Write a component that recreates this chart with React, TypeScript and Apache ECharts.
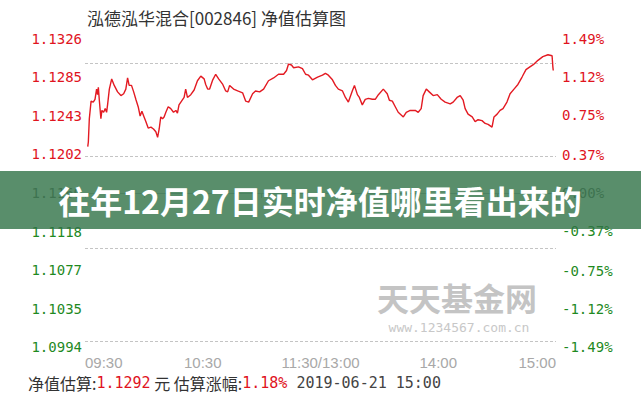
import React, { useEffect, useRef } from "react";
import * as echarts from "echarts";

const TITLE = "泓德泓华混合[002846] 净值估算图";
const BANNER = "往年12月27日实时净值哪里看出来的";
const WATERMARK = "天天基金网";
const WATERMARK_URL = "www.1234567.com.cn";

// minutes since 09:30 (trading minutes, lunch break removed)
const MINUTES = [
  1.4, 1.7, 2.2, 3.1, 4.2, 5.1, 5.9, 6.4, 6.8, 7.3, 8.1, 8.6, 9.5, 10.3, 11.0, 11.5, 12.4, 13.6, 14.9, 16.6,
  18.3, 19.7, 20.8, 21.7, 22.5, 23.7, 24.8, 25.9, 27.1, 28.1, 29.0, 30.1, 31.0, 32.2, 33.6, 34.9, 36.1, 37.0, 37.8, 38.6,
  39.5, 40.3, 41.2, 42.4, 43.7, 45.1, 46.3, 47.1, 47.9, 49.2, 50.5, 51.3, 52.2, 53.9, 55.6, 57.3, 59.0, 60.7, 61.5, 62.5,
  63.5, 65.1, 66.6, 68.1, 70.2, 71.7, 72.7, 73.7, 75.7, 77.8, 80.3, 81.9, 83.4, 85.4, 86.9, 89.0, 91.0, 93.5, 96.1, 98.6,
  101.2, 102.7, 103.7, 105.2, 106.3, 108.8, 110.8, 112.4, 113.9, 115.9, 118.5, 121.0, 122.5, 124.0, 126.1, 127.6, 129.1, 131.2, 132.7, 134.2,
  136.2, 137.3, 138.8, 139.8, 141.3, 142.8, 144.4, 146.4, 147.9, 149.5, 152.0, 154.0, 155.1, 156.6, 158.1, 159.6, 162.2, 163.7, 165.7, 168.3,
  169.8, 171.3, 172.3, 173.9, 175.4, 177.4, 179.5, 181.5, 183.5, 186.1, 187.6, 189.6, 191.2, 192.7, 193.7, 195.2, 197.3, 198.8, 200.3, 202.3,
  203.9, 205.4, 207.4, 208.4, 210.0, 211.5, 213.0, 215.0, 216.6, 218.6, 220.6, 222.7, 224.7, 226.7, 228.8, 230.8, 233.3, 235.9, 238.0, 238.4,
  238.6,
];

const NAV = [
  1.1210, 1.1215, 1.1240, 1.1259, 1.1258, 1.1261, 1.1272, 1.1266, 1.1274, 1.1260, 1.1240, 1.1249, 1.1247, 1.1251, 1.1247, 1.1255, 1.1272, 1.1283, 1.1276, 1.1269,
  1.1265, 1.1267, 1.1272, 1.1284, 1.1276, 1.1276, 1.1269, 1.1261, 1.1253, 1.1243, 1.1248, 1.1242, 1.1237, 1.1230, 1.1231, 1.1229, 1.1226, 1.1220, 1.1229, 1.1242,
  1.1240, 1.1242, 1.1247, 1.1253, 1.1251, 1.1247, 1.1249, 1.1246, 1.1255, 1.1259, 1.1263, 1.1272, 1.1263, 1.1266, 1.1271, 1.1281, 1.1286, 1.1283, 1.1277, 1.1272,
  1.1272, 1.1282, 1.1288, 1.1283, 1.1277, 1.1270, 1.1269, 1.1276, 1.1272, 1.1270, 1.1268, 1.1259, 1.1258, 1.1267, 1.1270, 1.1269, 1.1272, 1.1281, 1.1284, 1.1288,
  1.1288, 1.1292, 1.1299, 1.1298, 1.1295, 1.1296, 1.1294, 1.1288, 1.1287, 1.1282, 1.1285, 1.1287, 1.1289, 1.1287, 1.1282, 1.1276, 1.1272, 1.1270, 1.1263, 1.1258,
  1.1270, 1.1276, 1.1266, 1.1263, 1.1255, 1.1261, 1.1262, 1.1261, 1.1261, 1.1266, 1.1272, 1.1267, 1.1260, 1.1259, 1.1253, 1.1247, 1.1242, 1.1247, 1.1249, 1.1249,
  1.1247, 1.1251, 1.1265, 1.1272, 1.1269, 1.1265, 1.1266, 1.1261, 1.1258, 1.1256, 1.1258, 1.1263, 1.1265, 1.1260, 1.1251, 1.1245, 1.1242, 1.1237, 1.1239, 1.1238,
  1.1235, 1.1234, 1.1231, 1.1242, 1.1245, 1.1249, 1.1251, 1.1258, 1.1267, 1.1272, 1.1277, 1.1285, 1.1293, 1.1296, 1.1299, 1.1303, 1.1307, 1.1309, 1.1308, 1.1296,
  1.1292,
];

const X_LABEL_AT = [0, 60, 120, 180, 240];
const X_LABELS = ["09:30", "10:30", "11:30/13:00", "14:00", "15:00"];
const X_TICKS = [0, 30, 90, 150, 210, 240];

const BASE_NAV = 1.116;
const LEFT_TICKS = [1.0994, 1.1035, 1.1077, 1.1118, 1.116, 1.1202, 1.1243, 1.1285, 1.1326];
const LEFT_LABELS = ["1.0994", "1.1035", "1.1077", "1.1118", "1.1160", "1.1202", "1.1243", "1.1285", "1.1326"];
const RIGHT_TICKS = [-1.49, -1.12, -0.75, -0.37, 0, 0.37, 0.75, 1.12, 1.49];
const RIGHT_LABELS = ["-1.49%", "-1.12%", "-0.75%", "-0.37%", "0.00%", "0.37%", "0.75%", "1.12%", "1.49%"];

const EST_NAV = "1.1292";
const EST_PCT = "1.18%";
const EST_TIME = "2019-06-21 15:00";

const RED = "#e0141e";
const GREEN = "#1f8a1f";
const MID = "#777777";
const LINE_RED = "#e31a22";
const MONO = '"DejaVu Sans Mono", monospace';
const CJK = '"Noto Sans CJK SC", sans-serif';

function nearestIndex(arr: number[], v: number) {
  let best = 0;
  for (let i = 1; i < arr.length; i++) {
    if (Math.abs(arr[i] - v) < Math.abs(arr[best] - v)) best = i;
  }
  return best;
}

export default function App() {
  const ref = useRef<HTMLDivElement>(null);

  useEffect(() => {
    document.body.style.margin = "0";
    const chart = echarts.init(ref.current!, undefined, { renderer: "svg" });
    const points = MINUTES.map((m, i) => [m, NAV[i]]);

    chart.setOption({
      animation: false,
      backgroundColor: "#ffffff",
      title: {
        text: TITLE,
        left: 82,
        top: 4,
        textStyle: { fontFamily: CJK, fontSize: 17, fontWeight: "normal", color: "#333333" },
      },
      grid: { left: 85, right: 85, top: 39, bottom: 53, containLabel: false },
      xAxis: {
        type: "value",
        min: 0,
        max: 240,
        axisLine: { show: true, lineStyle: { color: "#b9c2cc", width: 1 } },
        axisTick: { show: true, customValues: X_TICKS, length: 5, lineStyle: { color: "#b9c2cc" } },
        axisLabel: {
          customValues: X_LABEL_AT,
          formatter: (v: number) => X_LABELS[nearestIndex(X_LABEL_AT, v)],
          alignMinLabel: "left",
          alignMaxLabel: "right",
          color: "#a8a8a8",
          fontFamily: '"Liberation Sans", Arial, sans-serif',
          fontSize: 15,
          margin: 8,
        },
        splitLine: { show: false },
      },
      yAxis: [
        {
          type: "value",
          min: 1.0994,
          max: 1.1326,
          position: "left",
          axisLine: { show: false },
          axisTick: { show: false, customValues: LEFT_TICKS },
          axisLabel: {
            customValues: LEFT_TICKS,
            formatter: (v: number) => LEFT_LABELS[nearestIndex(LEFT_TICKS, v)],
            color: (v: number) => (v > BASE_NAV + 1e-6 ? RED : v < BASE_NAV - 1e-6 ? GREEN : MID),
            fontFamily: MONO,
            fontSize: 14,
            margin: 3,
          },
          splitLine: { show: false },
        },
        {
          type: "value",
          min: -1.49,
          max: 1.49,
          position: "right",
          axisLine: { show: false },
          axisTick: { show: false, customValues: RIGHT_TICKS },
          axisLabel: {
            customValues: RIGHT_TICKS,
            formatter: (v: number) => RIGHT_LABELS[nearestIndex(RIGHT_TICKS, v)],
            color: (v: number) => (v > 1e-6 ? RED : v < -1e-6 ? GREEN : MID),
            fontFamily: MONO,
            fontSize: 14,
            margin: 6,
          },
          splitLine: { show: false },
        },
      ],
      series: [
        {
          type: "line",
          name: "净值估算",
          data: points,
          yAxisIndex: 0,
          showSymbol: false,
          symbol: "none",
          z: 5,
          lineStyle: { color: LINE_RED, width: 1.4 },
          markLine: {
            silent: true,
            symbol: ["none", "none"],
            label: { show: false },
            emphasis: { disabled: true },
            lineStyle: { type: [3, 2], color: "#c4c4c4", width: 1, opacity: 1 },
            data: LEFT_TICKS.slice(1).map((v) => ({ yAxis: v })),
          },
        },
      ],
      graphic: [
        {
          type: "text",
          x: 457,
          y: 297,
          z: 0,
          silent: true,
          style: {
            text: WATERMARK,
            align: "center",
            verticalAlign: "middle",
            font: `bold 32px ${CJK}`,
            lineHeight: 32,
            fill: "#c4c4c4",
          },
        },
        {
          type: "text",
          x: 459,
          y: 327,
          z: 0,
          silent: true,
          style: {
            text: WATERMARK_URL,
            align: "center",
            verticalAlign: "middle",
            font: `13px ${MONO}`,
            fill: "#c8c8c8",
          },
        },
        {
          type: "text",
          left: 28,
          top: 375,
          style: {
            text: `{a|净值估算:}{r|${EST_NAV}}{a| 元 估算涨幅:}{r|${EST_PCT}}{d| ${EST_TIME}}`,
            rich: {
              a: { fontFamily: CJK, fontSize: 16, fill: "#333333" },
              r: { fontFamily: MONO, fontSize: 15, fill: RED },
              d: { fontFamily: MONO, fontSize: 15, fill: "#444444" },
            },
          },
        },
        {
          type: "rect",
          left: 0,
          top: 171,
          z: 100,
          shape: { width: 641, height: 58 },
          style: { fill: "rgba(48,114,70,0.8)" },
        },
        {
          type: "text",
          x: 320,
          y: 200,
          z: 101,
          style: {
            text: BANNER,
            align: "center",
            verticalAlign: "middle",
            font: `bold 32px ${CJK}`,
            fill: "#ffffff",
            shadowColor: "rgba(0,0,0,0.35)",
            shadowBlur: 3,
          },
        },
      ],
    });

    return () => chart.dispose();
  }, []);

  return (
    <div
      ref={ref}
      style={{ position: "fixed", left: 0, top: 0, width: 641, height: 400 }}
    />
  );
}
